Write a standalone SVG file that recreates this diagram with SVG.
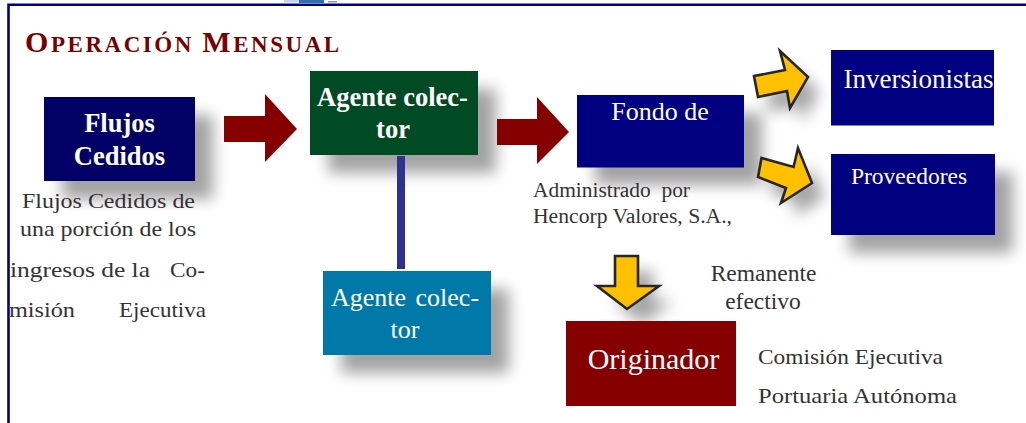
<svg xmlns="http://www.w3.org/2000/svg" width="1026" height="423" viewBox="0 0 1026 423">
<style>
text{font-family:"Liberation Serif","Times New Roman",serif}
.w{fill:#fff;text-anchor:middle}
.t{fill:#333;font-size:22px}
.b{font-weight:bold}
.shadow{fill:#000;opacity:.36;filter:url(#blur)}
.red{fill:#860000}
.yel{fill:#ffc000;stroke:#262626;stroke-width:2.600}
</style>
<defs><filter id="blur" x="-30%" y="-30%" width="160%" height="160%"><feGaussianBlur stdDeviation="7.500"/></filter></defs>
<rect width="1026" height="423" fill="#fff"/>
<g id="frame">
<path d="M284 0h18v2.500h-18z" fill="#c5d5e5"/><path d="M299 0h25v3h-25z" fill="#2f6ea8"/><path d="M328 1h9v1.500h-9z" fill="#999"/>
<path d="M1026 4.800H8.500V423" fill="none" stroke="#000080" stroke-width="2.600"/>
</g>
<text id="title" x="25" y="52" fill="#7a0000" font-weight="bold" font-size="23" letter-spacing="2.550"><tspan font-size="30">O</tspan>PERACIÓN <tspan font-size="30">M</tspan>ENSUAL</text>
<g id="shadows">
<rect class="shadow" x="62" y="115" width="151" height="84"/>
<rect class="shadow" x="328" y="89" width="168" height="84"/>
<rect class="shadow" x="341" y="289" width="168" height="84"/>
<rect class="shadow" x="595" y="113" width="167" height="72"/>
<rect class="shadow" x="849" y="172" width="164" height="81"/>
<path class="shadow" d="M766 91 797 85 792 66 819 92 802 123 799 106 770 112z"/>
<path class="shadow" d="M773 173 805 182 810 163 824 198 793 218 798 203 770 192z"/>
<path class="shadow" d="M630 271H653V301H674L642 324 612 301H630z"/>
</g>
<g id="connectors">
<path class="red" d="M224 116H265V94L297 129 265 162V142H224z"/>
<path class="red" d="M497 119H537V97L569 132 537 164V145H497z"/>
<rect x="397" y="156" width="8" height="113" fill="#2e3192"/>
<path class="yel" d="M754 76 785 70 780 51 808 77 790 108 787 91 758 97z"/>
<path class="yel" d="M761.500 158 793.600 167 798 148 812 183 781 203 786 188 758 177z"/>
<path class="yel" d="M615 256H638V286H659L627 309 597 286H615z"/>
</g>
<g id="flujos"><rect x="44" y="97" width="151" height="84" fill="#000066"/>
<text class="w b" font-size="26.500" x="119.500" y="132">Flujos</text><text class="w b" font-size="26.500" x="119.500" y="164.500">Cedidos</text></g>
<g id="flujos-text" class="t">
<text x="22" y="208" textLength="173" lengthAdjust="spacingAndGlyphs">Flujos Cedidos de</text>
<text x="20" y="236" textLength="176" lengthAdjust="spacingAndGlyphs">una porción de los</text>
<text x="10" y="277" textLength="140" lengthAdjust="spacingAndGlyphs">ingresos de la</text><text x="170" y="277" textLength="35" lengthAdjust="spacingAndGlyphs">Co-</text>
<text x="9" y="317" textLength="66" lengthAdjust="spacingAndGlyphs">misión</text><text x="119" y="317" textLength="87" lengthAdjust="spacingAndGlyphs">Ejecutiva</text>
</g>
<g id="agente-verde"><rect x="310" y="71" width="168" height="84" fill="#004b23"/>
<text class="w b" font-size="26.500" x="392.500" y="106">Agente colec-</text><text class="w b" font-size="26.500" x="393" y="138">tor</text></g>
<g id="agente-azul"><rect x="323" y="271" width="168" height="84" fill="#0079a8"/>
<text class="w" font-size="26" x="405" y="306" word-spacing="3">Agente colec-</text><text class="w" font-size="26" x="405" y="338">tor</text></g>
<g id="fondo"><rect x="577" y="95" width="167" height="72.500" fill="#000080"/>
<text class="w" font-size="26" x="660" y="120">Fondo de</text></g>
<g id="fondo-text" class="t" style="font-size:20px">
<text x="533" y="197" textLength="157" lengthAdjust="spacingAndGlyphs" word-spacing="5">Administrado por</text>
<text x="533" y="223" textLength="199" lengthAdjust="spacingAndGlyphs">Hencorp Valores, S.A.,</text>
</g>
<g id="inversionistas"><rect x="831" y="50" width="163" height="75.500" fill="#000080"/>
<text class="w" font-size="27" x="918.500" y="88">Inversionistas</text></g>
<g id="proveedores"><rect x="831" y="154" width="164" height="81" fill="#000080"/>
<text class="w" font-size="23.500" x="909" y="184">Proveedores</text></g>
<g id="remanente" class="t" style="font-size:23.500px">
<text x="763.500" y="281" text-anchor="middle">Remanente</text>
<text x="763" y="309" text-anchor="middle">efectivo</text>
</g>
<g id="originador"><rect x="566" y="321" width="170" height="85" fill="#860000"/>
<text class="w" font-size="30" x="653.500" y="369">Originador</text></g>
<g id="originador-text" class="t" style="font-size:22px">
<text x="758" y="364" textLength="185" lengthAdjust="spacingAndGlyphs">Comisión Ejecutiva</text>
<text x="758" y="403" textLength="199" lengthAdjust="spacingAndGlyphs">Portuaria Autónoma</text>
</g>
</svg>
